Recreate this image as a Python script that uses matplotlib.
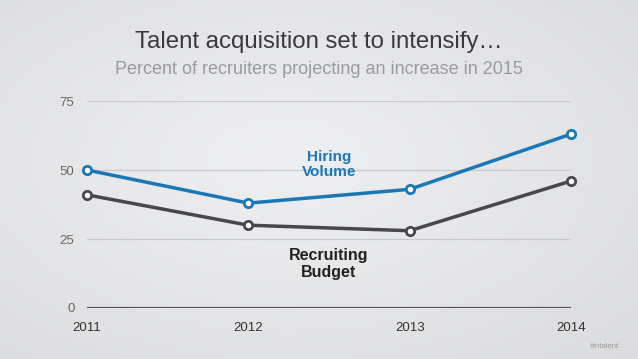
import matplotlib
matplotlib.use("Agg")
import matplotlib.pyplot as plt
import numpy as np

years = [2011, 2012, 2013, 2014]
hiring_volume = [50, 38, 43, 63]
recruiting_budget = [41, 30, 28, 46]
y_ticks = [0, 25, 50, 75]

BLUE = "#1b78b4"
DARK = "#48484c"

plt.rcParams["font.family"] = ["Liberation Sans", "DejaVu Sans"]

W, H = 638, 359
fig = plt.figure(figsize=(W / 100, H / 100), dpi=100)

# soft radial grey background
bg = fig.add_axes([0, 0, 1, 1], zorder=-10)
yy, xx = np.mgrid[0:H, 0:W]
r = np.sqrt(((xx - W * 0.45) / W) ** 2 + ((yy - H * 0.45) / H) ** 2)
shade = 0.935 - 0.10 * r
bg.imshow(np.dstack([shade, shade + 0.003, shade + 0.01]).clip(0, 1),
          aspect="auto", extent=[0, 1, 0, 1])
bg.axis("off")

ax = fig.add_axes([87 / W, 1 - 308 / H, (571 - 87) / W, (308 - 101) / H])
ax.set_facecolor("none")

for t in y_ticks[1:]:
    ax.axhline(t, color="#c9cacc", linewidth=0.9, zorder=1)
ax.axhline(0, color="#59595c", linewidth=1.6, zorder=2)

ax.plot(years, hiring_volume, color=BLUE, linewidth=2.5, marker="o",
        markersize=6, markerfacecolor="white", markeredgecolor=BLUE,
        markeredgewidth=2, zorder=4, clip_on=False)
ax.plot(years, recruiting_budget, color=DARK, linewidth=2.5, marker="o",
        markersize=6, markerfacecolor="white", markeredgecolor=DARK,
        markeredgewidth=2, zorder=3, clip_on=False)

ax.text(2012.5, 52, "Hiring\nVolume", color=BLUE, fontsize=11,
        fontweight="bold", ha="center", va="center", linespacing=1.15)
ax.text(2012.5, 16, "Recruiting\nBudget", color="#222222", fontsize=11.5,
        fontweight="bold", ha="center", va="center", linespacing=1.15)

ax.set_xlim(2011, 2014)
ax.set_ylim(0, 75)
ax.set_xticks(years)
ax.set_xticklabels([str(y) for y in years], fontsize=9.5, color="#333333")
ax.set_yticks(y_ticks)
ax.set_yticklabels([str(t) for t in y_ticks], fontsize=9.5, color="#666666")
ax.tick_params(length=0)
ax.tick_params(axis="x", pad=10)
ax.tick_params(axis="y", pad=9)
for s in ax.spines.values():
    s.set_visible(False)

fig.text(0.5, 1 - 42 / H, "Talent acquisition set to intensify\u2026",
         ha="center", va="center", fontsize=17.3, color="#3a3a3c")
fig.text(0.5, 1 - 69 / H, "Percent of recruiters projecting an increase in 2015",
         ha="center", va="center", fontsize=13, color="#9a9b9e")
fig.text(605 / W, 1 - 346 / H, "#intalent", ha="center", va="center",
         fontsize=5.5, color="#9a9a9a")

fig.savefig("out.png", dpi=100)
